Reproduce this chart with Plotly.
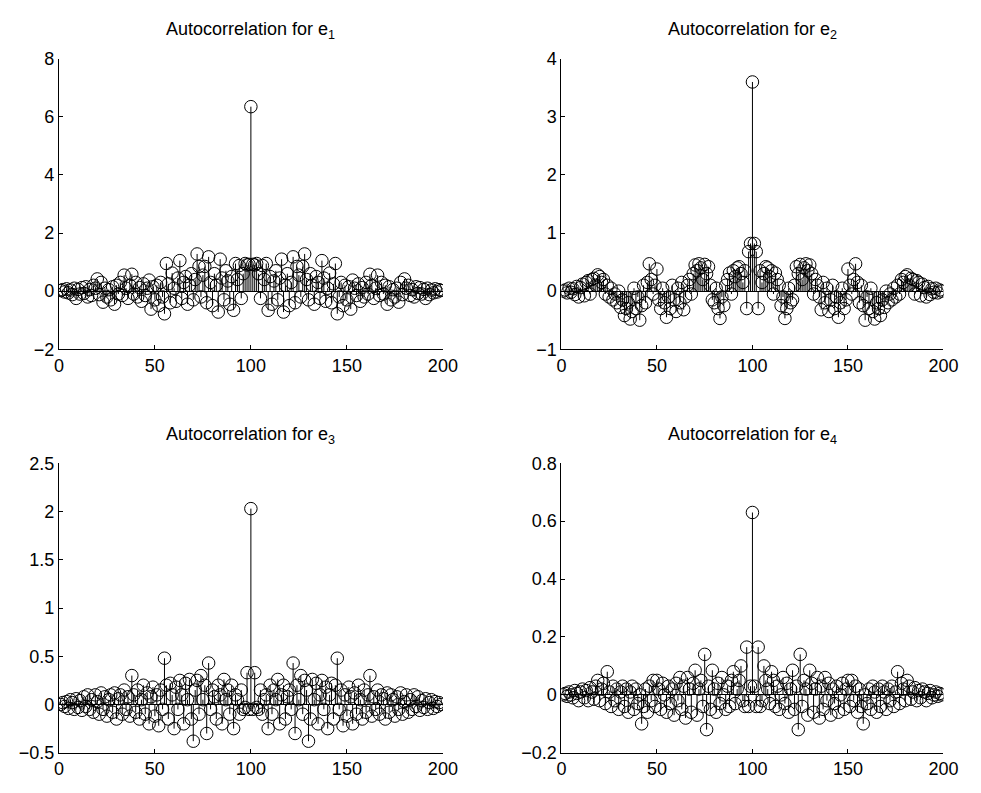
import plotly.graph_objects as go

# ---------------- data (index 1..199, peak at 100) ----------------
e1_left = [0.02, 0.05, -0.03, 0.08, -0.06, 0.04, -0.12, 0.1, -0.25, 0.06,
           -0.1, 0.12, -0.08, 0.15, -0.2, 0.05, -0.15, 0.2, 0.1, 0.42,
           -0.12, 0.3, -0.38, 0.1, -0.2, 0.05, -0.3, 0.15, -0.45, 0.2,
           -0.1, 0.3, -0.15, 0.55, 0.1, -0.25, 0.2, 0.58, -0.1, 0.3,
           -0.2, 0.12, -0.35, 0.25, -0.15, 0.1, 0.38, -0.62, 0.15, -0.3,
           0.2, -0.5, 0.3, -0.2, -0.78, 0.95, 0.25, -0.4, 0.62, 0.1,
           -0.35, 0.45, 1.05, -0.25, 0.3, 0.5, -0.45, 0.2, 0.6, -0.3,
           0.4, 1.28, 0.85, -0.2, 0.55, 0.85, -0.4, 1.18, 0.3, -0.5,
           0.6, 0.2, -0.72, 1.1, 0.45, -0.3, 0.7, 0.35, -0.45, 0.5,
           -0.66, 0.95, 0.4, 0.88, -0.25, 0.6, 0.95, 0.9, 0.92]
e1_peak = [6.35]
e1_right = [0.92, 0.9, 0.95, 0.6, -0.25, 0.88, 0.4, 0.95, -0.66,
            0.5, -0.45, 0.35, 0.7, -0.3, 0.45, 1.1, -0.72, 0.2, 0.6,
            -0.5, 0.3, 1.18, -0.4, 0.85, 0.55, -0.2, 0.85, 1.28, 0.4,
            -0.3, 0.6, 0.2, -0.45, 0.5, 0.3, -0.25, 1.05, 0.45, -0.35,
            0.1, 0.62, -0.4, 0.25, 0.95, -0.78, -0.2, 0.3, -0.5, 0.2,
            -0.3, 0.15, -0.62, 0.38, 0.1, -0.15, 0.25, -0.35, 0.12, -0.2,
            0.3, -0.1, 0.58, 0.2, -0.25, 0.1, 0.55, -0.15, 0.3, -0.1,
            0.2, -0.45, 0.15, -0.3, 0.05, -0.2, 0.1, -0.38, 0.3, -0.12,
            0.42, 0.1, 0.2, -0.15, 0.05, -0.2, 0.15, -0.08, 0.12, -0.1,
            0.06, -0.25, 0.1, -0.12, 0.04, -0.06, 0.08, -0.03, 0.05, 0.02]

e2_left = [0.0, 0.02, -0.03, 0.05, -0.02, 0.04, -0.06, 0.08, -0.1, 0.06,
           0.12, -0.08, 0.15, 0.18, -0.05, 0.2, 0.22, 0.1, 0.28, 0.25,
           0.15, 0.2, -0.05, 0.1, -0.1, 0.05, -0.15, -0.05, -0.2, 0.0,
           -0.28, -0.15, -0.42, -0.3, -0.2, -0.48, -0.35, 0.05, -0.3, -0.1,
           -0.5, -0.25, 0.1, -0.2, 0.15, 0.47, 0.2, -0.05, 0.1, 0.38,
           -0.15, -0.3, 0.05, -0.2, -0.45, -0.1, -0.3, 0.1, -0.15, -0.35,
           0.05, -0.2, 0.15, -0.32, -0.1, 0.1, 0.2, -0.05, 0.3, 0.45,
           0.35, 0.47, 0.4, 0.2, 0.46, 0.3, 0.42, 0.1, -0.15, -0.2,
           0.05, -0.3, -0.47, -0.1, -0.25, 0.1, 0.2, 0.31, -0.05, 0.35,
           0.25, 0.4, 0.42, 0.3, 0.15, 0.35, -0.3, 0.68, 0.82]
e2_peak = [3.6]
e2_right = [0.82, 0.68, -0.3, 0.35, 0.15, 0.3, 0.42, 0.4, 0.25,
            0.35, -0.05, 0.31, 0.2, 0.1, -0.25, -0.1, -0.47, -0.3, 0.05,
            -0.2, -0.15, 0.1, 0.42, 0.3, 0.46, 0.2, 0.4, 0.47, 0.35,
            0.45, 0.3, -0.05, 0.2, 0.1, -0.1, -0.32, 0.15, -0.2, 0.05,
            -0.35, -0.15, 0.1, -0.3, -0.1, -0.45, -0.2, 0.05, -0.3, -0.15,
            0.38, 0.1, -0.05, 0.2, 0.47, 0.15, -0.2, 0.1, -0.25, -0.5,
            -0.1, -0.3, 0.05, -0.35, -0.48, -0.2, -0.3, -0.42, -0.15, -0.28,
            0.0, -0.2, -0.05, -0.15, 0.05, -0.1, 0.1, -0.05, 0.2, 0.15,
            0.25, 0.28, 0.1, 0.22, 0.2, -0.05, 0.18, 0.15, -0.08, 0.12,
            0.06, -0.1, 0.08, -0.06, 0.04, -0.02, 0.05, -0.03, 0.02, 0.0]

e3_left = [0.0, 0.02, -0.02, 0.03, -0.04, 0.05, 0.02, -0.05, 0.06, -0.03,
           0.04, -0.06, 0.08, -0.02, 0.1, -0.05, 0.05, -0.08, 0.1, 0.03,
           -0.1, 0.12, -0.05, 0.08, -0.12, 0.05, 0.1, -0.08, 0.12, -0.15,
           0.06, 0.1, -0.1, 0.15, -0.05, 0.08, -0.12, 0.3, 0.1, -0.08,
           0.15, -0.15, 0.05, 0.2, -0.1, 0.12, -0.2, 0.08, 0.18, -0.12,
           0.1, -0.22, 0.15, -0.05, 0.48, 0.2, -0.15, 0.22, 0.1, -0.25,
           0.18, -0.05, 0.25, 0.1, -0.2, 0.22, 0.05, 0.26, -0.15, -0.38,
           0.15, 0.25, -0.1, 0.3, 0.05, 0.2, -0.3, 0.43, -0.05, 0.15,
           0.08, -0.15, 0.2, 0.1, -0.2, 0.26, 0.05, 0.15, -0.1, 0.2,
           -0.25, 0.1, 0.05, -0.1, 0.15, -0.05, -0.03, 0.33, -0.05]
e3_peak = [2.03]
e3_right = [-0.05, 0.33, -0.03, -0.05, 0.15, -0.1, 0.05, 0.1, -0.25,
            0.2, -0.1, 0.15, 0.05, 0.26, -0.2, 0.1, 0.2, -0.15, 0.08,
            0.15, -0.05, 0.43, -0.3, 0.2, 0.05, 0.3, -0.1, 0.25, 0.15,
            -0.38, -0.15, 0.26, 0.05, 0.22, -0.2, 0.1, 0.25, -0.05, 0.18,
            -0.25, 0.1, 0.22, -0.15, 0.2, 0.48, -0.05, 0.15, -0.22, 0.1,
            -0.12, 0.18, 0.08, -0.2, 0.12, -0.1, 0.2, 0.05, -0.15, 0.15,
            -0.08, 0.1, 0.3, -0.12, 0.08, -0.05, 0.15, -0.1, 0.1, 0.06,
            -0.15, 0.12, -0.08, 0.1, 0.05, -0.12, 0.08, -0.05, 0.12, -0.1,
            0.03, 0.1, -0.08, 0.05, -0.05, 0.1, -0.02, 0.08, -0.06, 0.04,
            -0.03, 0.06, -0.05, 0.02, 0.05, -0.04, 0.03, -0.02, 0.02, 0.0]

e4_left = [0.0, 0.005, -0.005, 0.01, 0.0, -0.01, 0.015, 0.005, -0.02, 0.01,
           0.02, -0.01, 0.015, -0.02, 0.025, 0.01, -0.015, 0.03, 0.05, -0.02,
           0.02, 0.04, -0.03, 0.08, 0.01, -0.04, 0.03, -0.02, 0.02, -0.05,
           0.01, 0.03, -0.04, 0.02, -0.06, 0.01, 0.03, -0.05, 0.02, -0.03,
           0.0, -0.1, -0.04, 0.02, -0.06, 0.03, -0.02, 0.05, -0.04, 0.05,
           0.02, -0.05, 0.04, 0.0, -0.06, 0.03, -0.03, 0.02, -0.07, 0.04,
           -0.02, 0.06, -0.05, 0.03, -0.08, 0.06, 0.02, -0.06, 0.04, 0.085,
           -0.07, 0.02, 0.05, -0.04, 0.14, -0.12, 0.03, -0.05, 0.085, 0.02,
           -0.06, 0.04, -0.03, 0.06, 0.0, -0.05, 0.03, -0.04, 0.05, 0.08,
           -0.03, 0.02, 0.05, 0.1, -0.02, -0.04, 0.165, -0.04, 0.03]
e4_peak = [0.63]
e4_right = [0.03, -0.04, 0.165, -0.04, -0.02, 0.1, 0.05, 0.02, -0.03,
            0.08, 0.05, -0.04, 0.03, -0.05, 0.0, 0.06, -0.03, 0.04, -0.06,
            0.02, 0.085, -0.05, 0.03, -0.12, 0.14, -0.04, 0.05, 0.02, -0.07,
            0.085, 0.04, -0.06, 0.02, 0.06, -0.08, 0.03, -0.05, 0.06, -0.02,
            0.04, -0.07, 0.02, -0.03, 0.03, -0.06, 0.0, 0.04, -0.05, 0.02,
            0.05, -0.04, 0.05, -0.02, 0.03, -0.06, 0.02, -0.04, -0.1, 0.0,
            -0.03, 0.02, -0.05, 0.03, 0.01, -0.06, 0.02, -0.04, 0.03, 0.01,
            -0.05, 0.02, -0.02, 0.03, -0.04, 0.01, 0.08, -0.03, 0.04, 0.02,
            -0.02, 0.05, 0.03, -0.015, 0.01, 0.025, -0.02, 0.015, -0.01, 0.02,
            0.01, -0.02, 0.005, 0.015, -0.01, 0.0, 0.01, -0.005, 0.005, 0.0]

series = [e1_left + e1_peak + e1_right,
          e2_left + e2_peak + e2_right,
          e3_left + e3_peak + e3_right,
          e4_left + e4_peak + e4_right]
titles = ["Autocorrelation for e<sub>1</sub>", "Autocorrelation for e<sub>2</sub>",
          "Autocorrelation for e<sub>3</sub>", "Autocorrelation for e<sub>4</sub>"]
y_ranges = [[-2, 8], [-1, 4], [-0.5, 2.5], [-0.2, 0.8]]
y_dticks = [2, 1, 0.5, 0.2]
x_ticks = [0, 50, 100, 150, 200]

# ---------------- layout geometry ----------------
W, H = 981, 793
x_doms = [[55 / W, 447 / W], [568 / W, 958 / W]]
y_doms = [[1 - 348 / H, 1 - 50 / H], [1 - 762 / H, 1 - 465 / H]]
title_y = [1 - 21 / H, 1 - 437 / H]
FONT = "Liberation Sans, Arial, sans-serif"
TICK_SIZE = 18
TITLE_SIZE = 18

fig = go.Figure()
layout = dict(width=W, height=H, margin=dict(l=0, r=0, t=0, b=0),
              paper_bgcolor="white", plot_bgcolor="white", showlegend=False,
              font=dict(family=FONT, size=TICK_SIZE, color="black"))
annotations = []

for k, vals in enumerate(series):
    row, col = divmod(k, 2)
    sfx = "" if k == 0 else str(k + 1)
    idx = list(range(1, len(vals) + 1))
    sx, sy = [], []
    for i, v in zip(idx, vals):
        sx += [i, i, None]
        sy += [0, v, None]
    fig.add_trace(go.Scatter(x=sx, y=sy, mode="lines", xaxis="x" + sfx, yaxis="y" + sfx,
                             line=dict(color="black", width=1), hoverinfo="skip"))
    fig.add_trace(go.Scatter(x=idx, y=vals, mode="markers", xaxis="x" + sfx, yaxis="y" + sfx,
                             marker=dict(symbol="circle-open", size=12.5, color="black",
                                         line=dict(color="black", width=1))))
    layout["xaxis" + sfx] = dict(domain=x_doms[col], anchor="y" + sfx, range=[0, 200],
                                 tickvals=x_ticks, showline=True, linecolor="black", linewidth=1,
                                 ticks="inside", ticklen=4, tickcolor="black", showgrid=False,
                                 zeroline=False, mirror=False,
                                 tickfont=dict(family=FONT, size=TICK_SIZE, color="black"))
    layout["yaxis" + sfx] = dict(domain=y_doms[row], anchor="x" + sfx, range=y_ranges[k],
                                 dtick=y_dticks[k], tick0=0, showline=True, linecolor="black",
                                 linewidth=1, ticks="inside", ticklen=4, tickcolor="black",
                                 showgrid=False, zeroline=True, zerolinecolor="black",
                                 zerolinewidth=1, mirror=False,
                                 tickfont=dict(family=FONT, size=TICK_SIZE, color="black"))
    annotations.append(dict(text=titles[k], xref="paper", yref="paper",
                            x=sum(x_doms[col]) / 2, y=title_y[row], xanchor="center",
                            yanchor="middle", showarrow=False,
                            font=dict(family=FONT, size=TITLE_SIZE, color="black")))

layout["annotations"] = annotations
fig.update_layout(**layout)
fig.write_html("out.html")
